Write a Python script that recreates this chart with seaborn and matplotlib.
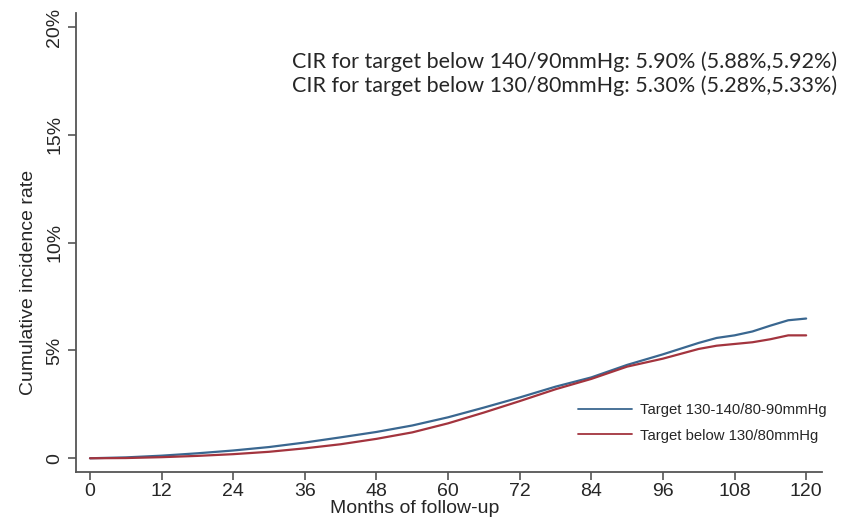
import pandas as pd
import seaborn as sns
import matplotlib.pyplot as plt
import numpy as np

# months of follow-up and cumulative incidence (%)
months = [0, 6, 12, 18, 24, 30, 36, 42, 48, 54, 60, 66, 72, 78, 84, 90, 96, 102, 105, 108, 111, 114, 117, 120]
cir_130_140 = [0, 0.04, 0.12, 0.23, 0.36, 0.52, 0.73, 0.97, 1.22, 1.52, 1.90, 2.35, 2.82, 3.32, 3.75, 4.33, 4.82,
               5.35, 5.58, 5.70, 5.88, 6.15, 6.40, 6.48]
cir_below_130 = [0, 0.01, 0.05, 0.11, 0.19, 0.30, 0.46, 0.65, 0.90, 1.20, 1.62, 2.12, 2.65, 3.20, 3.68, 4.25, 4.62,
                 5.07, 5.22, 5.30, 5.38, 5.52, 5.70, 5.70]
labels = ['Target 130-140/80-90mmHg', 'Target below 130/80mmHg']
xticks = [0, 12, 24, 36, 48, 60, 72, 84, 96, 108, 120]
yticks = [0, 5, 10, 15, 20]
ytick_labels = ['0', '5%', '10%', '15%', '20%']
note_lines = ['CIR for target below 140/90mmHg: 5.90% (5.88%,5.92%)',
              'CIR for target below 130/80mmHg: 5.30% (5.28%,5.33%)']

df = pd.DataFrame({
    'month': months * 2,
    'cir': cir_130_140 + cir_below_130,
    'group': [labels[0]] * len(months) + [labels[1]] * len(months),
})

sns.set_style('ticks')
plt.rcParams['font.family'] = ['Liberation Sans', 'DejaVu Sans']

fig = plt.figure(figsize=(8.49, 5.31), dpi=100)
ax = fig.add_axes([0.0895, 0.111, 0.879, 0.8645])

sns.lineplot(data=df, x='month', y='cir', hue='group', hue_order=labels,
             palette=['#3a6790', '#a3343e'], linewidth=1.6, ax=ax)

ax.set_xlim(-2.35, 122.7)
ax.set_ylim(-0.64, 20.65)
ax.set_xticks(xticks)
ax.set_yticks(yticks)
ax.set_yticklabels(ytick_labels, rotation=90, va='center')
ax.tick_params(axis='both', labelsize=14, length=6, width=1.2, color='#555555', pad=3)
ax.tick_params(axis='x', pad=2)
for side in ['left', 'bottom']:
    ax.spines[side].set_color('#555555')
    ax.spines[side].set_linewidth(1.3)
sns.despine(ax=ax)

ax.set_xlabel('Months of follow-up', fontsize=14)
ax.set_ylabel('Cumulative incidence rate', fontsize=14)
# the original places both titles a bit off-centre
ax.xaxis.set_label_coords(0.454, -0.06)
ax.yaxis.set_label_coords(-0.052, 0.414)

leg = ax.legend(loc='lower right', bbox_to_anchor=(1.024, 0.035), frameon=False, fontsize=10.7,
                handlelength=3.6, handletextpad=0.55, labelspacing=0.75)
for line in leg.get_lines():
    line.set_linewidth(1.3)

fig.text(837 / 849, 1 - 62 / 531, note_lines[0], ha='right', va='center', fontsize=15.5, family=['Lato', 'DejaVu Sans'])
fig.text(837 / 849, 1 - 86 / 531, note_lines[1], ha='right', va='center', fontsize=15.5, family=['Lato', 'DejaVu Sans'])

fig.savefig('out.png', dpi=100)
